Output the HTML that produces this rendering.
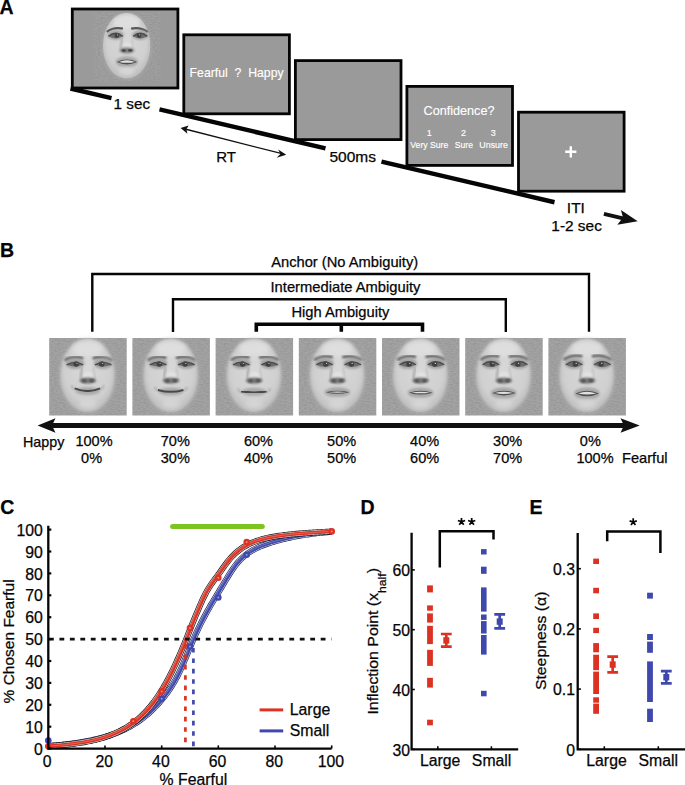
<!DOCTYPE html>
<html><head><meta charset="utf-8"><style>
html,body{margin:0;padding:0;background:#fff;}
svg{display:block;font-family:"Liberation Sans",sans-serif;}
text[fill="#050505"]{stroke:#050505;stroke-width:0.25px;}
text[fill="#fff"]{stroke:#fff;stroke-width:0.15px;}
</style></head><body>
<svg width="685" height="785" viewBox="0 0 685 785">
<defs>
<radialGradient id="faceg" cx="0.5" cy="0.4" r="0.55">
<stop offset="0" stop-color="#d8d8d8"/><stop offset="0.8" stop-color="#d0d0d0"/><stop offset="1" stop-color="#c4c4c4"/>
</radialGradient>
<filter id="bl06" x="-30%" y="-30%" width="160%" height="160%"><feGaussianBlur stdDeviation="0.6"/></filter>
<filter id="bl1" x="-20%" y="-20%" width="140%" height="140%"><feGaussianBlur stdDeviation="0.8"/></filter>
<filter id="bl15" x="-30%" y="-30%" width="160%" height="160%"><feGaussianBlur stdDeviation="1.3"/></filter>
<filter id="bl2" x="-50%" y="-50%" width="200%" height="200%"><feGaussianBlur stdDeviation="2"/></filter>
<filter id="noise" x="0" y="0" width="100%" height="100%"><feTurbulence type="fractalNoise" baseFrequency="0.35 0.9" numOctaves="2" seed="3"/><feColorMatrix type="matrix" values="0 0 0 0 0  0 0 0 0 0  0 0 0 0 0  0 0 0 -2.2 1.4"/><feComposite in2="SourceGraphic" operator="in"/></filter>
</defs>
<rect width="685" height="785" fill="#fff"/>

<text x="-0.5" y="13.6" font-size="19.5" text-anchor="start" fill="#050505" font-weight="bold" >A</text>
<line x1="70.5" y1="88.50" x2="111.5" y2="98.14" stroke="#050505" stroke-width="4.4"/>
<line x1="159.5" y1="109.41" x2="325.5" y2="148.43" stroke="#050505" stroke-width="4.4"/>
<line x1="381.5" y1="161.58" x2="554.5" y2="202.24" stroke="#050505" stroke-width="4.4"/>
<rect x="72.3" y="9.0" width="105.6" height="79.0" fill="#9a9a9a" stroke="#050505" stroke-width="2.8"/>
<rect x="183.8" y="34.8" width="105.6" height="79.0" fill="#9a9a9a" stroke="#050505" stroke-width="2.8"/>
<rect x="295.4" y="60.6" width="105.6" height="79.0" fill="#9a9a9a" stroke="#050505" stroke-width="2.8"/>
<rect x="406.9" y="86.4" width="105.6" height="79.0" fill="#9a9a9a" stroke="#050505" stroke-width="2.8"/>
<rect x="518.5" y="112.2" width="105.6" height="79.0" fill="#9a9a9a" stroke="#050505" stroke-width="2.8"/>
<g transform="translate(93.30,12.40) scale(0.8697,0.8916)"><rect x="0" y="0" width="77.5" height="77.5" fill="#a0a0a0"/><rect x="0" y="0" width="77.5" height="77.5" fill="#000" filter="url(#noise)" opacity="0.08"/><ellipse cx="38.3" cy="37.4" rx="27.2" ry="36.7" fill="url(#faceg)" filter="url(#bl1)"/><ellipse cx="38.3" cy="38" rx="27" ry="36" fill="none" stroke="#b8b8b8" stroke-width="3" filter="url(#bl2)" opacity="0.5"/><ellipse cx="38.5" cy="11" rx="15" ry="8" fill="#dedede" filter="url(#bl2)"/><path d="M15.5 21.9 Q23.5 16.2 34 18.3" stroke="#555" stroke-width="2.6" fill="none" filter="url(#bl1)"/><path d="M43.5 18.3 Q54 16.2 62.5 21.9" stroke="#555" stroke-width="2.6" fill="none" filter="url(#bl1)"/><ellipse cx="25.7" cy="25.5" rx="9.5" ry="5.5" fill="#a4a4a4" filter="url(#bl15)"/><ellipse cx="54" cy="25.5" rx="9.5" ry="5.5" fill="#a4a4a4" filter="url(#bl15)"/><path d="M17.5 26.8 Q25.7 20.0 33.9 26.8 Q25.7 31.6 17.5 26.8Z" fill="#6c6c6c" filter="url(#bl06)"/><circle cx="27.0" cy="26.0" r="2.7" fill="#404040" filter="url(#bl06)"/><circle cx="27.8" cy="25.2" r="0.7" fill="#cfcfcf" filter="url(#bl06)"/><path d="M17.5 26.8 Q25.7 20.0 33.9 26.8" stroke="#4a4a4a" stroke-width="1.4" fill="none" filter="url(#bl06)"/><path d="M45.8 26.8 Q54.0 20.0 62.2 26.8 Q54.0 31.6 45.8 26.8Z" fill="#6c6c6c" filter="url(#bl06)"/><circle cx="52.6" cy="26.0" r="2.7" fill="#404040" filter="url(#bl06)"/><circle cx="53.4" cy="25.2" r="0.7" fill="#cfcfcf" filter="url(#bl06)"/><path d="M45.8 26.8 Q54.0 20.0 62.2 26.8" stroke="#4a4a4a" stroke-width="1.4" fill="none" filter="url(#bl06)"/><path d="M33.2 29 Q32.2 36 31.2 40.5" stroke="#acacac" stroke-width="2.4" fill="none" filter="url(#bl15)"/><path d="M44 29 Q45 36 46 40.5" stroke="#c4c4c4" stroke-width="2" fill="none" filter="url(#bl15)"/><ellipse cx="39" cy="38.2" rx="5" ry="4.5" fill="#e2e2e2" filter="url(#bl15)"/><ellipse cx="38.6" cy="42.6" rx="8.5" ry="3.2" fill="#7c7c7c" filter="url(#bl15)"/><ellipse cx="35" cy="42.8" rx="2.6" ry="1.6" fill="#4a4a4a" filter="url(#bl1)"/><ellipse cx="42.4" cy="42.6" rx="2.6" ry="1.6" fill="#4a4a4a" filter="url(#bl1)"/><ellipse cx="38.5" cy="55.5" rx="13" ry="6.2" fill="#a8a8a8" filter="url(#bl15)"/><path d="M27 55.5 Q38.5 49.9 50.5 55.5 Q38.5 61.1 27 55.5Z" fill="#4e4e4e" filter="url(#bl06)"/><path d="M29.5 55.5 Q38.5 52.0 48 55.5 Q38.5 57.7 29.5 55.5Z" fill="#e0e0e0" filter="url(#bl06)"/><ellipse cx="38.5" cy="66" rx="9" ry="4.5" fill="#d8d8d8" filter="url(#bl2)" opacity="0.8"/></g>
<text x="236.6" y="77.4" font-size="13.3" text-anchor="middle" fill="#fff" font-weight="normal" textLength="94" lengthAdjust="spacingAndGlyphs">Fearful&#160;&#160;?&#160;&#160;Happy</text>
<text x="459.0" y="115.2" font-size="13.3" text-anchor="middle" fill="#fff" font-weight="normal" textLength="71" lengthAdjust="spacingAndGlyphs">Confidence?</text>
<text x="429.2" y="136.3" font-size="9" text-anchor="middle" fill="#fff" font-weight="normal" >1</text>
<text x="463.4" y="136.3" font-size="9" text-anchor="middle" fill="#fff" font-weight="normal" >2</text>
<text x="493.2" y="136.3" font-size="9" text-anchor="middle" fill="#fff" font-weight="normal" >3</text>
<text x="429.3" y="148.0" font-size="9.6" text-anchor="middle" fill="#fff" font-weight="normal" textLength="38" lengthAdjust="spacingAndGlyphs">Very Sure</text>
<text x="463.9" y="148.0" font-size="9.6" text-anchor="middle" fill="#fff" font-weight="normal" textLength="18.2" lengthAdjust="spacingAndGlyphs">Sure</text>
<text x="493.6" y="148.0" font-size="9.6" text-anchor="middle" fill="#fff" font-weight="normal" textLength="28.6" lengthAdjust="spacingAndGlyphs">Unsure</text>
<path d="M565.2 151.8 H576.4 M570.8 146.2 V157.4" stroke="#fff" stroke-width="2.4"/>
<text x="131.8" y="108.6" font-size="14" text-anchor="middle" fill="#050505" font-weight="normal" textLength="36.5" lengthAdjust="spacingAndGlyphs">1 sec</text>
<text x="226.1" y="162.2" font-size="15" text-anchor="middle" fill="#050505" font-weight="normal" >RT</text>
<text x="352.7" y="162.0" font-size="14" text-anchor="middle" fill="#050505" font-weight="normal" textLength="46.5" lengthAdjust="spacingAndGlyphs">500ms</text>
<text x="575.9" y="212.6" font-size="15.5" text-anchor="middle" fill="#050505" font-weight="normal" >ITI</text>
<text x="576.6" y="231.0" font-size="14" text-anchor="middle" fill="#050505" font-weight="normal" textLength="50.5" lengthAdjust="spacingAndGlyphs">1-2 sec</text>
<line x1="183" y1="128.5" x2="284" y2="154.2" stroke="#111" stroke-width="1.3"/>
<path d="M180.6 127.9 L188.6 125.6 L186.4 129.3 L187.4 133.8 Z" fill="#111"/>
<path d="M286.2 154.7 L278.2 149.6 L280.4 154.0 L276.6 157.7 Z" fill="#111"/>
<line x1="603.9" y1="213.9" x2="623" y2="218.3" stroke="#111" stroke-width="3.8"/>
<path d="M637.7 221.3 L620.9 209.9 L623.0 217.6 L617.3 224.8 Z" fill="#111"/>
<text x="0.0" y="257.4" font-size="19.5" text-anchor="start" fill="#050505" font-weight="bold" >B</text>
<path d="M92.3 331.7 V274 H589 V331.7" stroke="#050505" stroke-width="2.4" fill="none"/>
<path d="M173 332 V299.3 H505.8 V332" stroke="#050505" stroke-width="2.4" fill="none"/>
<path d="M256.3 331.7 V324.3 H422.5 V331.7 M341.3 324.3 V331.7" stroke="#050505" stroke-width="3.6" fill="none"/>
<text x="344.7" y="266.7" font-size="14.5" text-anchor="middle" fill="#050505" font-weight="normal" textLength="147" lengthAdjust="spacingAndGlyphs">Anchor (No Ambiguity)</text>
<text x="345.5" y="292.1" font-size="14.5" text-anchor="middle" fill="#050505" font-weight="normal" textLength="150" lengthAdjust="spacingAndGlyphs">Intermediate Ambiguity</text>
<text x="340.4" y="317.4" font-size="14.5" text-anchor="middle" fill="#050505" font-weight="normal" textLength="98" lengthAdjust="spacingAndGlyphs">High Ambiguity</text>
<g transform="translate(49.20,338.00) scale(1.0000,1.0000)"><rect x="0" y="0" width="77.5" height="77.5" fill="#a3a3a3"/><rect x="0" y="0" width="77.5" height="77.5" fill="#000" filter="url(#noise)" opacity="0.08"/><ellipse cx="38.3" cy="37.4" rx="27.2" ry="36.7" fill="url(#faceg)" filter="url(#bl1)"/><ellipse cx="38.3" cy="38" rx="27" ry="36" fill="none" stroke="#b8b8b8" stroke-width="3" filter="url(#bl2)" opacity="0.5"/><ellipse cx="38.5" cy="11" rx="15" ry="8" fill="#dedede" filter="url(#bl2)"/><path d="M15.5 22.5 Q23.5 17.8 34 20.2" stroke="#555" stroke-width="2.6" fill="none" filter="url(#bl1)"/><path d="M43.5 20.2 Q54 17.8 62.5 22.5" stroke="#555" stroke-width="2.6" fill="none" filter="url(#bl1)"/><ellipse cx="25.7" cy="25.5" rx="9.5" ry="5.5" fill="#a4a4a4" filter="url(#bl15)"/><ellipse cx="54" cy="25.5" rx="9.5" ry="5.5" fill="#a4a4a4" filter="url(#bl15)"/><path d="M17.5 26.8 Q25.7 22.0 33.9 26.8 Q25.7 30.2 17.5 26.8Z" fill="#6c6c6c" filter="url(#bl06)"/><circle cx="27.0" cy="26.0" r="2.7" fill="#404040" filter="url(#bl06)"/><circle cx="27.8" cy="25.2" r="0.7" fill="#cfcfcf" filter="url(#bl06)"/><path d="M17.5 26.8 Q25.7 22.0 33.9 26.8" stroke="#4a4a4a" stroke-width="1.4" fill="none" filter="url(#bl06)"/><path d="M45.8 26.8 Q54.0 22.0 62.2 26.8 Q54.0 30.2 45.8 26.8Z" fill="#6c6c6c" filter="url(#bl06)"/><circle cx="52.6" cy="26.0" r="2.7" fill="#404040" filter="url(#bl06)"/><circle cx="53.4" cy="25.2" r="0.7" fill="#cfcfcf" filter="url(#bl06)"/><path d="M45.8 26.8 Q54.0 22.0 62.2 26.8" stroke="#4a4a4a" stroke-width="1.4" fill="none" filter="url(#bl06)"/><path d="M33.2 29 Q32.2 36 31.2 40.5" stroke="#acacac" stroke-width="2.4" fill="none" filter="url(#bl15)"/><path d="M44 29 Q45 36 46 40.5" stroke="#c4c4c4" stroke-width="2" fill="none" filter="url(#bl15)"/><ellipse cx="39" cy="38.2" rx="5" ry="4.5" fill="#e2e2e2" filter="url(#bl15)"/><ellipse cx="38.6" cy="42.6" rx="8.5" ry="3.2" fill="#7c7c7c" filter="url(#bl15)"/><ellipse cx="35" cy="42.8" rx="2.6" ry="1.6" fill="#4a4a4a" filter="url(#bl1)"/><ellipse cx="42.4" cy="42.6" rx="2.6" ry="1.6" fill="#4a4a4a" filter="url(#bl1)"/><path d="M22 47.4 Q24 51.4 26 51.4" stroke="#a8a8a8" stroke-width="1.6" fill="none" filter="url(#bl1)"/><path d="M55 47.4 Q53 51.4 51 51.4" stroke="#a8a8a8" stroke-width="1.6" fill="none" filter="url(#bl1)"/><ellipse cx="38.5" cy="53.0" rx="12.5" ry="4" fill="#aaaaaa" filter="url(#bl15)"/><path d="M25.5 50.4 Q38.5 55.8 51 50.4" stroke="#4a4a4a" stroke-width="2.1" fill="none" filter="url(#bl06)"/><ellipse cx="38.5" cy="66" rx="9" ry="4.5" fill="#d8d8d8" filter="url(#bl2)" opacity="0.8"/></g>
<g transform="translate(132.40,338.00) scale(1.0000,1.0000)"><rect x="0" y="0" width="77.5" height="77.5" fill="#a3a3a3"/><rect x="0" y="0" width="77.5" height="77.5" fill="#000" filter="url(#noise)" opacity="0.08"/><ellipse cx="38.3" cy="37.4" rx="27.2" ry="36.7" fill="url(#faceg)" filter="url(#bl1)"/><ellipse cx="38.3" cy="38" rx="27" ry="36" fill="none" stroke="#b8b8b8" stroke-width="3" filter="url(#bl2)" opacity="0.5"/><ellipse cx="38.5" cy="11" rx="15" ry="8" fill="#dedede" filter="url(#bl2)"/><path d="M15.5 22.4 Q23.5 17.5 34 19.9" stroke="#555" stroke-width="2.6" fill="none" filter="url(#bl1)"/><path d="M43.5 19.9 Q54 17.5 62.5 22.4" stroke="#555" stroke-width="2.6" fill="none" filter="url(#bl1)"/><ellipse cx="25.7" cy="25.5" rx="9.5" ry="5.5" fill="#a4a4a4" filter="url(#bl15)"/><ellipse cx="54" cy="25.5" rx="9.5" ry="5.5" fill="#a4a4a4" filter="url(#bl15)"/><path d="M17.5 26.8 Q25.7 21.7 33.9 26.8 Q25.7 30.4 17.5 26.8Z" fill="#6c6c6c" filter="url(#bl06)"/><circle cx="27.0" cy="26.0" r="2.7" fill="#404040" filter="url(#bl06)"/><circle cx="27.8" cy="25.2" r="0.7" fill="#cfcfcf" filter="url(#bl06)"/><path d="M17.5 26.8 Q25.7 21.7 33.9 26.8" stroke="#4a4a4a" stroke-width="1.4" fill="none" filter="url(#bl06)"/><path d="M45.8 26.8 Q54.0 21.7 62.2 26.8 Q54.0 30.4 45.8 26.8Z" fill="#6c6c6c" filter="url(#bl06)"/><circle cx="52.6" cy="26.0" r="2.7" fill="#404040" filter="url(#bl06)"/><circle cx="53.4" cy="25.2" r="0.7" fill="#cfcfcf" filter="url(#bl06)"/><path d="M45.8 26.8 Q54.0 21.7 62.2 26.8" stroke="#4a4a4a" stroke-width="1.4" fill="none" filter="url(#bl06)"/><path d="M33.2 29 Q32.2 36 31.2 40.5" stroke="#acacac" stroke-width="2.4" fill="none" filter="url(#bl15)"/><path d="M44 29 Q45 36 46 40.5" stroke="#c4c4c4" stroke-width="2" fill="none" filter="url(#bl15)"/><ellipse cx="39" cy="38.2" rx="5" ry="4.5" fill="#e2e2e2" filter="url(#bl15)"/><ellipse cx="38.6" cy="42.6" rx="8.5" ry="3.2" fill="#7c7c7c" filter="url(#bl15)"/><ellipse cx="35" cy="42.8" rx="2.6" ry="1.6" fill="#4a4a4a" filter="url(#bl1)"/><ellipse cx="42.4" cy="42.6" rx="2.6" ry="1.6" fill="#4a4a4a" filter="url(#bl1)"/><path d="M22 48.9 Q24 52.9 26 52.9" stroke="#a8a8a8" stroke-width="1.6" fill="none" filter="url(#bl1)"/><path d="M55 48.9 Q53 52.9 51 52.9" stroke="#a8a8a8" stroke-width="1.6" fill="none" filter="url(#bl1)"/><ellipse cx="38.5" cy="53.4" rx="12.5" ry="4" fill="#aaaaaa" filter="url(#bl15)"/><path d="M25.5 51.9 Q38.5 55.7 51 51.9" stroke="#4a4a4a" stroke-width="2.1" fill="none" filter="url(#bl06)"/><ellipse cx="38.5" cy="66" rx="9" ry="4.5" fill="#d8d8d8" filter="url(#bl2)" opacity="0.8"/></g>
<g transform="translate(215.60,338.00) scale(1.0000,1.0000)"><rect x="0" y="0" width="77.5" height="77.5" fill="#a3a3a3"/><rect x="0" y="0" width="77.5" height="77.5" fill="#000" filter="url(#noise)" opacity="0.08"/><ellipse cx="38.3" cy="37.4" rx="27.2" ry="36.7" fill="url(#faceg)" filter="url(#bl1)"/><ellipse cx="38.3" cy="38" rx="27" ry="36" fill="none" stroke="#b8b8b8" stroke-width="3" filter="url(#bl2)" opacity="0.5"/><ellipse cx="38.5" cy="11" rx="15" ry="8" fill="#dedede" filter="url(#bl2)"/><path d="M15.5 22.3 Q23.5 17.3 34 19.6" stroke="#555" stroke-width="2.6" fill="none" filter="url(#bl1)"/><path d="M43.5 19.6 Q54 17.3 62.5 22.3" stroke="#555" stroke-width="2.6" fill="none" filter="url(#bl1)"/><ellipse cx="25.7" cy="25.5" rx="9.5" ry="5.5" fill="#a4a4a4" filter="url(#bl15)"/><ellipse cx="54" cy="25.5" rx="9.5" ry="5.5" fill="#a4a4a4" filter="url(#bl15)"/><path d="M17.5 26.8 Q25.7 21.4 33.9 26.8 Q25.7 30.6 17.5 26.8Z" fill="#6c6c6c" filter="url(#bl06)"/><circle cx="27.0" cy="26.0" r="2.7" fill="#404040" filter="url(#bl06)"/><circle cx="27.8" cy="25.2" r="0.7" fill="#cfcfcf" filter="url(#bl06)"/><path d="M17.5 26.8 Q25.7 21.4 33.9 26.8" stroke="#4a4a4a" stroke-width="1.4" fill="none" filter="url(#bl06)"/><path d="M45.8 26.8 Q54.0 21.4 62.2 26.8 Q54.0 30.6 45.8 26.8Z" fill="#6c6c6c" filter="url(#bl06)"/><circle cx="52.6" cy="26.0" r="2.7" fill="#404040" filter="url(#bl06)"/><circle cx="53.4" cy="25.2" r="0.7" fill="#cfcfcf" filter="url(#bl06)"/><path d="M45.8 26.8 Q54.0 21.4 62.2 26.8" stroke="#4a4a4a" stroke-width="1.4" fill="none" filter="url(#bl06)"/><path d="M33.2 29 Q32.2 36 31.2 40.5" stroke="#acacac" stroke-width="2.4" fill="none" filter="url(#bl15)"/><path d="M44 29 Q45 36 46 40.5" stroke="#c4c4c4" stroke-width="2" fill="none" filter="url(#bl15)"/><ellipse cx="39" cy="38.2" rx="5" ry="4.5" fill="#e2e2e2" filter="url(#bl15)"/><ellipse cx="38.6" cy="42.6" rx="8.5" ry="3.2" fill="#7c7c7c" filter="url(#bl15)"/><ellipse cx="35" cy="42.8" rx="2.6" ry="1.6" fill="#4a4a4a" filter="url(#bl1)"/><ellipse cx="42.4" cy="42.6" rx="2.6" ry="1.6" fill="#4a4a4a" filter="url(#bl1)"/><path d="M22 50.4 Q24 54.4 26 54.4" stroke="#a8a8a8" stroke-width="1.6" fill="none" filter="url(#bl1)"/><path d="M55 50.4 Q53 54.4 51 54.4" stroke="#a8a8a8" stroke-width="1.6" fill="none" filter="url(#bl1)"/><ellipse cx="38.5" cy="53.8" rx="12.5" ry="4" fill="#aaaaaa" filter="url(#bl15)"/><path d="M25.5 53.4 Q38.5 55.6 51 53.4" stroke="#4a4a4a" stroke-width="2.1" fill="none" filter="url(#bl06)"/><ellipse cx="38.5" cy="66" rx="9" ry="4.5" fill="#d8d8d8" filter="url(#bl2)" opacity="0.8"/></g>
<g transform="translate(298.80,338.00) scale(1.0000,1.0000)"><rect x="0" y="0" width="77.5" height="77.5" fill="#a3a3a3"/><rect x="0" y="0" width="77.5" height="77.5" fill="#000" filter="url(#noise)" opacity="0.08"/><ellipse cx="38.3" cy="37.4" rx="27.2" ry="36.7" fill="url(#faceg)" filter="url(#bl1)"/><ellipse cx="38.3" cy="38" rx="27" ry="36" fill="none" stroke="#b8b8b8" stroke-width="3" filter="url(#bl2)" opacity="0.5"/><ellipse cx="38.5" cy="11" rx="15" ry="8" fill="#dedede" filter="url(#bl2)"/><path d="M15.5 22.2 Q23.5 17.0 34 19.2" stroke="#555" stroke-width="2.6" fill="none" filter="url(#bl1)"/><path d="M43.5 19.2 Q54 17.0 62.5 22.2" stroke="#555" stroke-width="2.6" fill="none" filter="url(#bl1)"/><ellipse cx="25.7" cy="25.5" rx="9.5" ry="5.5" fill="#a4a4a4" filter="url(#bl15)"/><ellipse cx="54" cy="25.5" rx="9.5" ry="5.5" fill="#a4a4a4" filter="url(#bl15)"/><path d="M17.5 26.8 Q25.7 21.0 33.9 26.8 Q25.7 30.9 17.5 26.8Z" fill="#6c6c6c" filter="url(#bl06)"/><circle cx="27.0" cy="26.0" r="2.7" fill="#404040" filter="url(#bl06)"/><circle cx="27.8" cy="25.2" r="0.7" fill="#cfcfcf" filter="url(#bl06)"/><path d="M17.5 26.8 Q25.7 21.0 33.9 26.8" stroke="#4a4a4a" stroke-width="1.4" fill="none" filter="url(#bl06)"/><path d="M45.8 26.8 Q54.0 21.0 62.2 26.8 Q54.0 30.9 45.8 26.8Z" fill="#6c6c6c" filter="url(#bl06)"/><circle cx="52.6" cy="26.0" r="2.7" fill="#404040" filter="url(#bl06)"/><circle cx="53.4" cy="25.2" r="0.7" fill="#cfcfcf" filter="url(#bl06)"/><path d="M45.8 26.8 Q54.0 21.0 62.2 26.8" stroke="#4a4a4a" stroke-width="1.4" fill="none" filter="url(#bl06)"/><path d="M33.2 29 Q32.2 36 31.2 40.5" stroke="#acacac" stroke-width="2.4" fill="none" filter="url(#bl15)"/><path d="M44 29 Q45 36 46 40.5" stroke="#c4c4c4" stroke-width="2" fill="none" filter="url(#bl15)"/><ellipse cx="39" cy="38.2" rx="5" ry="4.5" fill="#e2e2e2" filter="url(#bl15)"/><ellipse cx="38.6" cy="42.6" rx="8.5" ry="3.2" fill="#7c7c7c" filter="url(#bl15)"/><ellipse cx="35" cy="42.8" rx="2.6" ry="1.6" fill="#4a4a4a" filter="url(#bl1)"/><ellipse cx="42.4" cy="42.6" rx="2.6" ry="1.6" fill="#4a4a4a" filter="url(#bl1)"/><ellipse cx="38.5" cy="54.2" rx="13" ry="4.9" fill="#a8a8a8" filter="url(#bl15)"/><path d="M27 54.2 Q38.5 51.3 50.5 54.2 Q38.5 57.2 27 54.2Z" fill="#4e4e4e" filter="url(#bl06)"/><path d="M29.5 54.2 Q38.5 52.9 48 54.2 Q38.5 55.1 29.5 54.2Z" fill="#e0e0e0" filter="url(#bl06)"/><ellipse cx="38.5" cy="66" rx="9" ry="4.5" fill="#d8d8d8" filter="url(#bl2)" opacity="0.8"/></g>
<g transform="translate(382.00,338.00) scale(1.0000,1.0000)"><rect x="0" y="0" width="77.5" height="77.5" fill="#a3a3a3"/><rect x="0" y="0" width="77.5" height="77.5" fill="#000" filter="url(#noise)" opacity="0.08"/><ellipse cx="38.3" cy="37.4" rx="27.2" ry="36.7" fill="url(#faceg)" filter="url(#bl1)"/><ellipse cx="38.3" cy="38" rx="27" ry="36" fill="none" stroke="#b8b8b8" stroke-width="3" filter="url(#bl2)" opacity="0.5"/><ellipse cx="38.5" cy="11" rx="15" ry="8" fill="#dedede" filter="url(#bl2)"/><path d="M15.5 22.1 Q23.5 16.7 34 18.9" stroke="#555" stroke-width="2.6" fill="none" filter="url(#bl1)"/><path d="M43.5 18.9 Q54 16.7 62.5 22.1" stroke="#555" stroke-width="2.6" fill="none" filter="url(#bl1)"/><ellipse cx="25.7" cy="25.5" rx="9.5" ry="5.5" fill="#a4a4a4" filter="url(#bl15)"/><ellipse cx="54" cy="25.5" rx="9.5" ry="5.5" fill="#a4a4a4" filter="url(#bl15)"/><path d="M17.5 26.8 Q25.7 20.7 33.9 26.8 Q25.7 31.1 17.5 26.8Z" fill="#6c6c6c" filter="url(#bl06)"/><circle cx="27.0" cy="26.0" r="2.7" fill="#404040" filter="url(#bl06)"/><circle cx="27.8" cy="25.2" r="0.7" fill="#cfcfcf" filter="url(#bl06)"/><path d="M17.5 26.8 Q25.7 20.7 33.9 26.8" stroke="#4a4a4a" stroke-width="1.4" fill="none" filter="url(#bl06)"/><path d="M45.8 26.8 Q54.0 20.7 62.2 26.8 Q54.0 31.1 45.8 26.8Z" fill="#6c6c6c" filter="url(#bl06)"/><circle cx="52.6" cy="26.0" r="2.7" fill="#404040" filter="url(#bl06)"/><circle cx="53.4" cy="25.2" r="0.7" fill="#cfcfcf" filter="url(#bl06)"/><path d="M45.8 26.8 Q54.0 20.7 62.2 26.8" stroke="#4a4a4a" stroke-width="1.4" fill="none" filter="url(#bl06)"/><path d="M33.2 29 Q32.2 36 31.2 40.5" stroke="#acacac" stroke-width="2.4" fill="none" filter="url(#bl15)"/><path d="M44 29 Q45 36 46 40.5" stroke="#c4c4c4" stroke-width="2" fill="none" filter="url(#bl15)"/><ellipse cx="39" cy="38.2" rx="5" ry="4.5" fill="#e2e2e2" filter="url(#bl15)"/><ellipse cx="38.6" cy="42.6" rx="8.5" ry="3.2" fill="#7c7c7c" filter="url(#bl15)"/><ellipse cx="35" cy="42.8" rx="2.6" ry="1.6" fill="#4a4a4a" filter="url(#bl1)"/><ellipse cx="42.4" cy="42.6" rx="2.6" ry="1.6" fill="#4a4a4a" filter="url(#bl1)"/><ellipse cx="38.5" cy="54.7" rx="13" ry="5.3" fill="#a8a8a8" filter="url(#bl15)"/><path d="M27 54.7 Q38.5 50.8 50.5 54.7 Q38.5 58.5 27 54.7Z" fill="#4e4e4e" filter="url(#bl06)"/><path d="M29.5 54.7 Q38.5 52.6 48 54.7 Q38.5 56.0 29.5 54.7Z" fill="#e0e0e0" filter="url(#bl06)"/><ellipse cx="38.5" cy="66" rx="9" ry="4.5" fill="#d8d8d8" filter="url(#bl2)" opacity="0.8"/></g>
<g transform="translate(465.20,338.00) scale(1.0000,1.0000)"><rect x="0" y="0" width="77.5" height="77.5" fill="#a3a3a3"/><rect x="0" y="0" width="77.5" height="77.5" fill="#000" filter="url(#noise)" opacity="0.08"/><ellipse cx="38.3" cy="37.4" rx="27.2" ry="36.7" fill="url(#faceg)" filter="url(#bl1)"/><ellipse cx="38.3" cy="38" rx="27" ry="36" fill="none" stroke="#b8b8b8" stroke-width="3" filter="url(#bl2)" opacity="0.5"/><ellipse cx="38.5" cy="11" rx="15" ry="8" fill="#dedede" filter="url(#bl2)"/><path d="M15.5 22.0 Q23.5 16.5 34 18.6" stroke="#555" stroke-width="2.6" fill="none" filter="url(#bl1)"/><path d="M43.5 18.6 Q54 16.5 62.5 22.0" stroke="#555" stroke-width="2.6" fill="none" filter="url(#bl1)"/><ellipse cx="25.7" cy="25.5" rx="9.5" ry="5.5" fill="#a4a4a4" filter="url(#bl15)"/><ellipse cx="54" cy="25.5" rx="9.5" ry="5.5" fill="#a4a4a4" filter="url(#bl15)"/><path d="M17.5 26.8 Q25.7 20.3 33.9 26.8 Q25.7 31.4 17.5 26.8Z" fill="#6c6c6c" filter="url(#bl06)"/><circle cx="27.0" cy="26.0" r="2.7" fill="#404040" filter="url(#bl06)"/><circle cx="27.8" cy="25.2" r="0.7" fill="#cfcfcf" filter="url(#bl06)"/><path d="M17.5 26.8 Q25.7 20.3 33.9 26.8" stroke="#4a4a4a" stroke-width="1.4" fill="none" filter="url(#bl06)"/><path d="M45.8 26.8 Q54.0 20.3 62.2 26.8 Q54.0 31.4 45.8 26.8Z" fill="#6c6c6c" filter="url(#bl06)"/><circle cx="52.6" cy="26.0" r="2.7" fill="#404040" filter="url(#bl06)"/><circle cx="53.4" cy="25.2" r="0.7" fill="#cfcfcf" filter="url(#bl06)"/><path d="M45.8 26.8 Q54.0 20.3 62.2 26.8" stroke="#4a4a4a" stroke-width="1.4" fill="none" filter="url(#bl06)"/><path d="M33.2 29 Q32.2 36 31.2 40.5" stroke="#acacac" stroke-width="2.4" fill="none" filter="url(#bl15)"/><path d="M44 29 Q45 36 46 40.5" stroke="#c4c4c4" stroke-width="2" fill="none" filter="url(#bl15)"/><ellipse cx="39" cy="38.2" rx="5" ry="4.5" fill="#e2e2e2" filter="url(#bl15)"/><ellipse cx="38.6" cy="42.6" rx="8.5" ry="3.2" fill="#7c7c7c" filter="url(#bl15)"/><ellipse cx="35" cy="42.8" rx="2.6" ry="1.6" fill="#4a4a4a" filter="url(#bl1)"/><ellipse cx="42.4" cy="42.6" rx="2.6" ry="1.6" fill="#4a4a4a" filter="url(#bl1)"/><ellipse cx="38.5" cy="55.1" rx="13" ry="5.8" fill="#a8a8a8" filter="url(#bl15)"/><path d="M27 55.1 Q38.5 50.4 50.5 55.1 Q38.5 59.8 27 55.1Z" fill="#4e4e4e" filter="url(#bl06)"/><path d="M29.5 55.1 Q38.5 52.3 48 55.1 Q38.5 56.8 29.5 55.1Z" fill="#e0e0e0" filter="url(#bl06)"/><ellipse cx="38.5" cy="66" rx="9" ry="4.5" fill="#d8d8d8" filter="url(#bl2)" opacity="0.8"/></g>
<g transform="translate(548.40,338.00) scale(1.0000,1.0000)"><rect x="0" y="0" width="77.5" height="77.5" fill="#a3a3a3"/><rect x="0" y="0" width="77.5" height="77.5" fill="#000" filter="url(#noise)" opacity="0.08"/><ellipse cx="38.3" cy="37.4" rx="27.2" ry="36.7" fill="url(#faceg)" filter="url(#bl1)"/><ellipse cx="38.3" cy="38" rx="27" ry="36" fill="none" stroke="#b8b8b8" stroke-width="3" filter="url(#bl2)" opacity="0.5"/><ellipse cx="38.5" cy="11" rx="15" ry="8" fill="#dedede" filter="url(#bl2)"/><path d="M15.5 21.9 Q23.5 16.2 34 18.3" stroke="#555" stroke-width="2.6" fill="none" filter="url(#bl1)"/><path d="M43.5 18.3 Q54 16.2 62.5 21.9" stroke="#555" stroke-width="2.6" fill="none" filter="url(#bl1)"/><ellipse cx="25.7" cy="25.5" rx="9.5" ry="5.5" fill="#a4a4a4" filter="url(#bl15)"/><ellipse cx="54" cy="25.5" rx="9.5" ry="5.5" fill="#a4a4a4" filter="url(#bl15)"/><path d="M17.5 26.8 Q25.7 20.0 33.9 26.8 Q25.7 31.6 17.5 26.8Z" fill="#6c6c6c" filter="url(#bl06)"/><circle cx="27.0" cy="26.0" r="2.7" fill="#404040" filter="url(#bl06)"/><circle cx="27.8" cy="25.2" r="0.7" fill="#cfcfcf" filter="url(#bl06)"/><path d="M17.5 26.8 Q25.7 20.0 33.9 26.8" stroke="#4a4a4a" stroke-width="1.4" fill="none" filter="url(#bl06)"/><path d="M45.8 26.8 Q54.0 20.0 62.2 26.8 Q54.0 31.6 45.8 26.8Z" fill="#6c6c6c" filter="url(#bl06)"/><circle cx="52.6" cy="26.0" r="2.7" fill="#404040" filter="url(#bl06)"/><circle cx="53.4" cy="25.2" r="0.7" fill="#cfcfcf" filter="url(#bl06)"/><path d="M45.8 26.8 Q54.0 20.0 62.2 26.8" stroke="#4a4a4a" stroke-width="1.4" fill="none" filter="url(#bl06)"/><path d="M33.2 29 Q32.2 36 31.2 40.5" stroke="#acacac" stroke-width="2.4" fill="none" filter="url(#bl15)"/><path d="M44 29 Q45 36 46 40.5" stroke="#c4c4c4" stroke-width="2" fill="none" filter="url(#bl15)"/><ellipse cx="39" cy="38.2" rx="5" ry="4.5" fill="#e2e2e2" filter="url(#bl15)"/><ellipse cx="38.6" cy="42.6" rx="8.5" ry="3.2" fill="#7c7c7c" filter="url(#bl15)"/><ellipse cx="35" cy="42.8" rx="2.6" ry="1.6" fill="#4a4a4a" filter="url(#bl1)"/><ellipse cx="42.4" cy="42.6" rx="2.6" ry="1.6" fill="#4a4a4a" filter="url(#bl1)"/><ellipse cx="38.5" cy="55.5" rx="13" ry="6.2" fill="#a8a8a8" filter="url(#bl15)"/><path d="M27 55.5 Q38.5 49.9 50.5 55.5 Q38.5 61.1 27 55.5Z" fill="#4e4e4e" filter="url(#bl06)"/><path d="M29.5 55.5 Q38.5 52.0 48 55.5 Q38.5 57.7 29.5 55.5Z" fill="#e0e0e0" filter="url(#bl06)"/><ellipse cx="38.5" cy="66" rx="9" ry="4.5" fill="#d8d8d8" filter="url(#bl2)" opacity="0.8"/></g>
<line x1="52" y1="425.5" x2="624" y2="425.5" stroke="#111" stroke-width="4.8"/>
<path d="M37.6 425.5 L55.5 418.3 L52 425.5 L55.5 432.8 Z" fill="#111"/>
<path d="M639.7 425.5 L620.5 418.3 L624 425.5 L620.5 432.8 Z" fill="#111"/>
<text x="23.0" y="446.6" font-size="14.5" text-anchor="start" fill="#050505" font-weight="normal" textLength="41.4" lengthAdjust="spacingAndGlyphs">Happy</text>
<text x="622.0" y="462.8" font-size="14.5" text-anchor="start" fill="#050505" font-weight="normal" textLength="45.6" lengthAdjust="spacingAndGlyphs">Fearful</text>
<text x="94.0" y="446.4" font-size="14.5" text-anchor="middle" fill="#050505" font-weight="normal" >100%</text>
<text x="91.6" y="463.2" font-size="14.5" text-anchor="middle" fill="#050505" font-weight="normal" >0%</text>
<text x="175.3" y="446.4" font-size="14.5" text-anchor="middle" fill="#050505" font-weight="normal" >70%</text>
<text x="175.3" y="463.2" font-size="14.5" text-anchor="middle" fill="#050505" font-weight="normal" >30%</text>
<text x="258.5" y="446.4" font-size="14.5" text-anchor="middle" fill="#050505" font-weight="normal" >60%</text>
<text x="258.5" y="463.2" font-size="14.5" text-anchor="middle" fill="#050505" font-weight="normal" >40%</text>
<text x="341.6" y="446.4" font-size="14.5" text-anchor="middle" fill="#050505" font-weight="normal" >50%</text>
<text x="341.6" y="463.2" font-size="14.5" text-anchor="middle" fill="#050505" font-weight="normal" >50%</text>
<text x="424.6" y="446.4" font-size="14.5" text-anchor="middle" fill="#050505" font-weight="normal" >40%</text>
<text x="424.6" y="463.2" font-size="14.5" text-anchor="middle" fill="#050505" font-weight="normal" >60%</text>
<text x="507.6" y="446.4" font-size="14.5" text-anchor="middle" fill="#050505" font-weight="normal" >30%</text>
<text x="507.6" y="463.2" font-size="14.5" text-anchor="middle" fill="#050505" font-weight="normal" >70%</text>
<text x="590.3" y="446.4" font-size="14.5" text-anchor="middle" fill="#050505" font-weight="normal" >0%</text>
<text x="595.0" y="463.2" font-size="14.5" text-anchor="middle" fill="#050505" font-weight="normal" >100%</text>
<text x="0.2" y="514.3" font-size="19.5" text-anchor="start" fill="#050505" font-weight="bold" >C</text>
<line x1="172.6" y1="526.6" x2="262.3" y2="526.6" stroke="#7cc41f" stroke-width="5" stroke-linecap="round"/>
<path d="M48.30 745.99 L49.72 745.89 L51.13 745.77 L52.55 745.66 L53.97 745.54 L55.38 745.41 L56.80 745.29 L58.22 745.15 L59.64 745.01 L61.05 744.87 L62.47 744.72 L63.89 744.57 L65.30 744.41 L66.72 744.25 L68.14 744.08 L69.55 743.90 L70.97 743.72 L72.39 743.54 L73.81 743.34 L75.22 743.14 L76.64 742.93 L78.06 742.72 L79.47 742.50 L80.89 742.27 L82.31 742.03 L83.72 741.78 L85.14 741.53 L86.56 741.26 L87.98 740.99 L89.39 740.71 L90.81 740.41 L92.23 740.11 L93.64 739.80 L95.06 739.47 L96.48 739.14 L97.89 738.79 L99.31 738.43 L100.73 738.06 L102.15 737.67 L103.56 737.27 L104.98 736.86 L106.40 736.43 L107.81 735.99 L109.23 735.53 L110.65 735.05 L112.06 734.56 L113.48 734.05 L114.90 733.52 L116.32 732.97 L117.73 732.41 L119.15 731.82 L120.57 731.21 L121.98 730.58 L123.40 729.92 L124.82 729.24 L126.23 728.54 L127.65 727.81 L129.07 727.06 L130.49 726.27 L131.90 725.46 L133.32 724.62 L134.74 723.75 L136.15 722.85 L137.57 721.91 L138.99 720.95 L140.41 719.94 L141.82 718.90 L143.24 717.83 L144.66 716.71 L146.07 715.55 L147.49 714.36 L148.91 713.12 L150.32 711.84 L151.74 710.51 L153.16 709.14 L154.57 707.72 L155.99 706.26 L157.41 704.74 L158.83 703.17 L160.24 701.55 L161.66 699.88 L163.08 698.16 L164.49 696.37 L165.91 694.52 L167.33 692.60 L168.75 690.60 L170.16 688.51 L171.58 686.33 L173.00 684.05 L174.41 681.65 L175.83 679.13 L177.25 676.49 L178.66 673.71 L180.08 670.78 L181.50 667.70 L182.92 664.48 L184.33 661.16 L185.75 657.76 L187.17 654.31 L188.58 650.85 L190.00 647.41 L191.42 644.01 L192.83 640.67 L194.25 637.41 L195.67 634.24 L197.08 631.16 L198.50 628.17 L199.92 625.26 L201.34 622.43 L202.75 619.67 L204.17 616.98 L205.59 614.36 L207.00 611.79 L208.42 609.27 L209.84 606.80 L211.25 604.36 L212.67 601.96 L214.09 599.58 L215.51 597.21 L216.92 594.86 L218.34 592.51 L219.76 590.17 L221.17 587.83 L222.59 585.48 L224.01 583.13 L225.43 580.77 L226.84 578.42 L228.26 576.10 L229.68 573.82 L231.09 571.61 L232.51 569.49 L233.93 567.46 L235.34 565.53 L236.76 563.73 L238.18 562.04 L239.60 560.47 L241.01 559.01 L242.43 557.66 L243.85 556.40 L245.26 555.22 L246.68 554.13 L248.10 553.10 L249.51 552.14 L250.93 551.25 L252.35 550.40 L253.76 549.61 L255.18 548.86 L256.60 548.15 L258.02 547.48 L259.43 546.84 L260.85 546.24 L262.27 545.66 L263.68 545.11 L265.10 544.58 L266.52 544.07 L267.94 543.59 L269.35 543.11 L270.77 542.66 L272.19 542.22 L273.60 541.79 L275.02 541.37 L276.44 540.97 L277.85 540.57 L279.27 540.19 L280.69 539.81 L282.11 539.45 L283.52 539.09 L284.94 538.74 L286.36 538.41 L287.77 538.08 L289.19 537.76 L290.61 537.45 L292.02 537.15 L293.44 536.86 L294.86 536.58 L296.27 536.31 L297.69 536.04 L299.11 535.79 L300.53 535.54 L301.94 535.30 L303.36 535.06 L304.78 534.84 L306.19 534.62 L307.61 534.41 L309.03 534.21 L310.44 534.01 L311.86 533.82 L313.28 533.64 L314.70 533.46 L316.11 533.29 L317.53 533.13 L318.95 532.97 L320.36 532.82 L321.78 532.67 L323.20 532.53 L324.62 532.39 L326.03 532.26 L327.45 532.14 L328.87 532.02 L330.28 531.90 L331.70 531.79" stroke="#1a1f5a" stroke-width="6.0" fill="none"/>
<path d="M48.30 745.99 L49.72 745.89 L51.13 745.77 L52.55 745.66 L53.97 745.54 L55.38 745.41 L56.80 745.29 L58.22 745.15 L59.64 745.01 L61.05 744.87 L62.47 744.72 L63.89 744.57 L65.30 744.41 L66.72 744.25 L68.14 744.08 L69.55 743.90 L70.97 743.72 L72.39 743.54 L73.81 743.34 L75.22 743.14 L76.64 742.93 L78.06 742.72 L79.47 742.50 L80.89 742.27 L82.31 742.03 L83.72 741.78 L85.14 741.53 L86.56 741.26 L87.98 740.99 L89.39 740.71 L90.81 740.41 L92.23 740.11 L93.64 739.80 L95.06 739.47 L96.48 739.14 L97.89 738.79 L99.31 738.43 L100.73 738.06 L102.15 737.67 L103.56 737.27 L104.98 736.86 L106.40 736.43 L107.81 735.99 L109.23 735.53 L110.65 735.05 L112.06 734.56 L113.48 734.05 L114.90 733.52 L116.32 732.97 L117.73 732.41 L119.15 731.82 L120.57 731.21 L121.98 730.58 L123.40 729.92 L124.82 729.24 L126.23 728.54 L127.65 727.81 L129.07 727.06 L130.49 726.27 L131.90 725.46 L133.32 724.62 L134.74 723.75 L136.15 722.85 L137.57 721.91 L138.99 720.95 L140.41 719.94 L141.82 718.90 L143.24 717.83 L144.66 716.71 L146.07 715.55 L147.49 714.36 L148.91 713.12 L150.32 711.84 L151.74 710.51 L153.16 709.14 L154.57 707.72 L155.99 706.26 L157.41 704.74 L158.83 703.17 L160.24 701.55 L161.66 699.88 L163.08 698.16 L164.49 696.37 L165.91 694.52 L167.33 692.60 L168.75 690.60 L170.16 688.51 L171.58 686.33 L173.00 684.05 L174.41 681.65 L175.83 679.13 L177.25 676.49 L178.66 673.71 L180.08 670.78 L181.50 667.70 L182.92 664.48 L184.33 661.16 L185.75 657.76 L187.17 654.31 L188.58 650.85 L190.00 647.41 L191.42 644.01 L192.83 640.67 L194.25 637.41 L195.67 634.24 L197.08 631.16 L198.50 628.17 L199.92 625.26 L201.34 622.43 L202.75 619.67 L204.17 616.98 L205.59 614.36 L207.00 611.79 L208.42 609.27 L209.84 606.80 L211.25 604.36 L212.67 601.96 L214.09 599.58 L215.51 597.21 L216.92 594.86 L218.34 592.51 L219.76 590.17 L221.17 587.83 L222.59 585.48 L224.01 583.13 L225.43 580.77 L226.84 578.42 L228.26 576.10 L229.68 573.82 L231.09 571.61 L232.51 569.49 L233.93 567.46 L235.34 565.53 L236.76 563.73 L238.18 562.04 L239.60 560.47 L241.01 559.01 L242.43 557.66 L243.85 556.40 L245.26 555.22 L246.68 554.13 L248.10 553.10 L249.51 552.14 L250.93 551.25 L252.35 550.40 L253.76 549.61 L255.18 548.86 L256.60 548.15 L258.02 547.48 L259.43 546.84 L260.85 546.24 L262.27 545.66 L263.68 545.11 L265.10 544.58 L266.52 544.07 L267.94 543.59 L269.35 543.11 L270.77 542.66 L272.19 542.22 L273.60 541.79 L275.02 541.37 L276.44 540.97 L277.85 540.57 L279.27 540.19 L280.69 539.81 L282.11 539.45 L283.52 539.09 L284.94 538.74 L286.36 538.41 L287.77 538.08 L289.19 537.76 L290.61 537.45 L292.02 537.15 L293.44 536.86 L294.86 536.58 L296.27 536.31 L297.69 536.04 L299.11 535.79 L300.53 535.54 L301.94 535.30 L303.36 535.06 L304.78 534.84 L306.19 534.62 L307.61 534.41 L309.03 534.21 L310.44 534.01 L311.86 533.82 L313.28 533.64 L314.70 533.46 L316.11 533.29 L317.53 533.13 L318.95 532.97 L320.36 532.82 L321.78 532.67 L323.20 532.53 L324.62 532.39 L326.03 532.26 L327.45 532.14 L328.87 532.02 L330.28 531.90 L331.70 531.79" stroke="#fff" stroke-width="4.7" fill="none" opacity="0.8"/>
<path d="M48.30 745.99 L49.72 745.89 L51.13 745.77 L52.55 745.66 L53.97 745.54 L55.38 745.41 L56.80 745.29 L58.22 745.15 L59.64 745.01 L61.05 744.87 L62.47 744.72 L63.89 744.57 L65.30 744.41 L66.72 744.25 L68.14 744.08 L69.55 743.90 L70.97 743.72 L72.39 743.54 L73.81 743.34 L75.22 743.14 L76.64 742.93 L78.06 742.72 L79.47 742.50 L80.89 742.27 L82.31 742.03 L83.72 741.78 L85.14 741.53 L86.56 741.26 L87.98 740.99 L89.39 740.71 L90.81 740.41 L92.23 740.11 L93.64 739.80 L95.06 739.47 L96.48 739.14 L97.89 738.79 L99.31 738.43 L100.73 738.06 L102.15 737.67 L103.56 737.27 L104.98 736.86 L106.40 736.43 L107.81 735.99 L109.23 735.53 L110.65 735.05 L112.06 734.56 L113.48 734.05 L114.90 733.52 L116.32 732.97 L117.73 732.41 L119.15 731.82 L120.57 731.21 L121.98 730.58 L123.40 729.92 L124.82 729.24 L126.23 728.54 L127.65 727.81 L129.07 727.06 L130.49 726.27 L131.90 725.46 L133.32 724.62 L134.74 723.75 L136.15 722.85 L137.57 721.91 L138.99 720.95 L140.41 719.94 L141.82 718.90 L143.24 717.83 L144.66 716.71 L146.07 715.55 L147.49 714.36 L148.91 713.12 L150.32 711.84 L151.74 710.51 L153.16 709.14 L154.57 707.72 L155.99 706.26 L157.41 704.74 L158.83 703.17 L160.24 701.55 L161.66 699.88 L163.08 698.16 L164.49 696.37 L165.91 694.52 L167.33 692.60 L168.75 690.60 L170.16 688.51 L171.58 686.33 L173.00 684.05 L174.41 681.65 L175.83 679.13 L177.25 676.49 L178.66 673.71 L180.08 670.78 L181.50 667.70 L182.92 664.48 L184.33 661.16 L185.75 657.76 L187.17 654.31 L188.58 650.85 L190.00 647.41 L191.42 644.01 L192.83 640.67 L194.25 637.41 L195.67 634.24 L197.08 631.16 L198.50 628.17 L199.92 625.26 L201.34 622.43 L202.75 619.67 L204.17 616.98 L205.59 614.36 L207.00 611.79 L208.42 609.27 L209.84 606.80 L211.25 604.36 L212.67 601.96 L214.09 599.58 L215.51 597.21 L216.92 594.86 L218.34 592.51 L219.76 590.17 L221.17 587.83 L222.59 585.48 L224.01 583.13 L225.43 580.77 L226.84 578.42 L228.26 576.10 L229.68 573.82 L231.09 571.61 L232.51 569.49 L233.93 567.46 L235.34 565.53 L236.76 563.73 L238.18 562.04 L239.60 560.47 L241.01 559.01 L242.43 557.66 L243.85 556.40 L245.26 555.22 L246.68 554.13 L248.10 553.10 L249.51 552.14 L250.93 551.25 L252.35 550.40 L253.76 549.61 L255.18 548.86 L256.60 548.15 L258.02 547.48 L259.43 546.84 L260.85 546.24 L262.27 545.66 L263.68 545.11 L265.10 544.58 L266.52 544.07 L267.94 543.59 L269.35 543.11 L270.77 542.66 L272.19 542.22 L273.60 541.79 L275.02 541.37 L276.44 540.97 L277.85 540.57 L279.27 540.19 L280.69 539.81 L282.11 539.45 L283.52 539.09 L284.94 538.74 L286.36 538.41 L287.77 538.08 L289.19 537.76 L290.61 537.45 L292.02 537.15 L293.44 536.86 L294.86 536.58 L296.27 536.31 L297.69 536.04 L299.11 535.79 L300.53 535.54 L301.94 535.30 L303.36 535.06 L304.78 534.84 L306.19 534.62 L307.61 534.41 L309.03 534.21 L310.44 534.01 L311.86 533.82 L313.28 533.64 L314.70 533.46 L316.11 533.29 L317.53 533.13 L318.95 532.97 L320.36 532.82 L321.78 532.67 L323.20 532.53 L324.62 532.39 L326.03 532.26 L327.45 532.14 L328.87 532.02 L330.28 531.90 L331.70 531.79" stroke="#3f48ad" stroke-width="3.5" fill="none"/>
<path d="M48.30 745.99 L49.72 745.89 L51.13 745.77 L52.55 745.66 L53.97 745.54 L55.38 745.41 L56.80 745.29 L58.22 745.15 L59.64 745.01 L61.05 744.87 L62.47 744.72 L63.89 744.57 L65.30 744.41 L66.72 744.25 L68.14 744.08 L69.55 743.90 L70.97 743.72 L72.39 743.54 L73.81 743.34 L75.22 743.14 L76.64 742.93 L78.06 742.72 L79.47 742.50 L80.89 742.27 L82.31 742.03 L83.72 741.78 L85.14 741.53 L86.56 741.26 L87.98 740.99 L89.39 740.71 L90.81 740.41 L92.23 740.11 L93.64 739.80 L95.06 739.47 L96.48 739.14 L97.89 738.79 L99.31 738.43 L100.73 738.06 L102.15 737.67 L103.56 737.27 L104.98 736.86 L106.40 736.43 L107.81 735.99 L109.23 735.53 L110.65 735.05 L112.06 734.56 L113.48 734.05 L114.90 733.52 L116.32 732.97 L117.73 732.41 L119.15 731.82 L120.57 731.21 L121.98 730.58 L123.40 729.92 L124.82 729.24 L126.23 728.54 L127.65 727.81 L129.07 727.06 L130.49 726.27 L131.90 725.46 L133.32 724.62 L134.74 723.75 L136.15 722.85 L137.57 721.91 L138.99 720.95 L140.41 719.94 L141.82 718.90 L143.24 717.83 L144.66 716.71 L146.07 715.55 L147.49 714.36 L148.91 713.12 L150.32 711.84 L151.74 710.51 L153.16 709.14 L154.57 707.72 L155.99 706.26 L157.41 704.74 L158.83 703.17 L160.24 701.55 L161.66 699.88 L163.08 698.16 L164.49 696.37 L165.91 694.52 L167.33 692.60 L168.75 690.60 L170.16 688.51 L171.58 686.33 L173.00 684.05 L174.41 681.65 L175.83 679.13 L177.25 676.49 L178.66 673.71 L180.08 670.78 L181.50 667.70 L182.92 664.48 L184.33 661.16 L185.75 657.76 L187.17 654.31 L188.58 650.85 L190.00 647.41 L191.42 644.01 L192.83 640.67 L194.25 637.41 L195.67 634.24 L197.08 631.16 L198.50 628.17 L199.92 625.26 L201.34 622.43 L202.75 619.67 L204.17 616.98 L205.59 614.36 L207.00 611.79 L208.42 609.27 L209.84 606.80 L211.25 604.36 L212.67 601.96 L214.09 599.58 L215.51 597.21 L216.92 594.86 L218.34 592.51 L219.76 590.17 L221.17 587.83 L222.59 585.48 L224.01 583.13 L225.43 580.77 L226.84 578.42 L228.26 576.10 L229.68 573.82 L231.09 571.61 L232.51 569.49 L233.93 567.46 L235.34 565.53 L236.76 563.73 L238.18 562.04 L239.60 560.47 L241.01 559.01 L242.43 557.66 L243.85 556.40 L245.26 555.22 L246.68 554.13 L248.10 553.10 L249.51 552.14 L250.93 551.25 L252.35 550.40 L253.76 549.61 L255.18 548.86 L256.60 548.15 L258.02 547.48 L259.43 546.84 L260.85 546.24 L262.27 545.66 L263.68 545.11 L265.10 544.58 L266.52 544.07 L267.94 543.59 L269.35 543.11 L270.77 542.66 L272.19 542.22 L273.60 541.79 L275.02 541.37 L276.44 540.97 L277.85 540.57 L279.27 540.19 L280.69 539.81 L282.11 539.45 L283.52 539.09 L284.94 538.74 L286.36 538.41 L287.77 538.08 L289.19 537.76 L290.61 537.45 L292.02 537.15 L293.44 536.86 L294.86 536.58 L296.27 536.31 L297.69 536.04 L299.11 535.79 L300.53 535.54 L301.94 535.30 L303.36 535.06 L304.78 534.84 L306.19 534.62 L307.61 534.41 L309.03 534.21 L310.44 534.01 L311.86 533.82 L313.28 533.64 L314.70 533.46 L316.11 533.29 L317.53 533.13 L318.95 532.97 L320.36 532.82 L321.78 532.67 L323.20 532.53 L324.62 532.39 L326.03 532.26 L327.45 532.14 L328.87 532.02 L330.28 531.90 L331.70 531.79" stroke="#fff" stroke-width="0.7" fill="none" opacity="0.35" transform="translate(-0.8,0)"/>
<path d="M48.30 746.15 L49.72 746.06 L51.13 745.95 L52.55 745.85 L53.97 745.74 L55.38 745.63 L56.80 745.51 L58.22 745.39 L59.64 745.26 L61.05 745.13 L62.47 744.99 L63.89 744.85 L65.30 744.71 L66.72 744.55 L68.14 744.40 L69.55 744.23 L70.97 744.06 L72.39 743.88 L73.81 743.70 L75.22 743.51 L76.64 743.31 L78.06 743.10 L79.47 742.88 L80.89 742.66 L82.31 742.43 L83.72 742.18 L85.14 741.93 L86.56 741.67 L87.98 741.40 L89.39 741.11 L90.81 740.82 L92.23 740.51 L93.64 740.19 L95.06 739.85 L96.48 739.51 L97.89 739.14 L99.31 738.77 L100.73 738.37 L102.15 737.96 L103.56 737.54 L104.98 737.09 L106.40 736.63 L107.81 736.14 L109.23 735.64 L110.65 735.11 L112.06 734.56 L113.48 733.99 L114.90 733.39 L116.32 732.77 L117.73 732.12 L119.15 731.44 L120.57 730.74 L121.98 730.00 L123.40 729.23 L124.82 728.43 L126.23 727.59 L127.65 726.71 L129.07 725.80 L130.49 724.85 L131.90 723.86 L133.32 722.82 L134.74 721.74 L136.15 720.62 L137.57 719.44 L138.99 718.22 L140.41 716.94 L141.82 715.61 L143.24 714.23 L144.66 712.79 L146.07 711.28 L147.49 709.72 L148.91 708.10 L150.32 706.41 L151.74 704.65 L153.16 702.83 L154.57 700.93 L155.99 698.97 L157.41 696.93 L158.83 694.82 L160.24 692.63 L161.66 690.37 L163.08 688.03 L164.49 685.62 L165.91 683.13 L167.33 680.55 L168.75 677.90 L170.16 675.17 L171.58 672.37 L173.00 669.48 L174.41 666.51 L175.83 663.47 L177.25 660.36 L178.66 657.17 L180.08 653.92 L181.50 650.60 L182.92 647.22 L184.33 643.78 L185.75 640.29 L187.17 636.76 L188.58 633.20 L190.00 629.64 L191.42 626.10 L192.83 622.60 L194.25 619.14 L195.67 615.72 L197.08 612.33 L198.50 608.99 L199.92 605.68 L201.34 602.45 L202.75 599.33 L204.17 596.35 L205.59 593.54 L207.00 590.92 L208.42 588.51 L209.84 586.27 L211.25 584.18 L212.67 582.19 L214.09 580.25 L215.51 578.35 L216.92 576.45 L218.34 574.52 L219.76 572.56 L221.17 570.54 L222.59 568.51 L224.01 566.49 L225.43 564.52 L226.84 562.63 L228.26 560.83 L229.68 559.14 L231.09 557.54 L232.51 556.04 L233.93 554.63 L235.34 553.30 L236.76 552.06 L238.18 550.89 L239.60 549.79 L241.01 548.76 L242.43 547.80 L243.85 546.90 L245.26 546.05 L246.68 545.26 L248.10 544.52 L249.51 543.83 L250.93 543.18 L252.35 542.57 L253.76 541.99 L255.18 541.46 L256.60 540.95 L258.02 540.48 L259.43 540.03 L260.85 539.61 L262.27 539.21 L263.68 538.84 L265.10 538.48 L266.52 538.15 L267.94 537.83 L269.35 537.53 L270.77 537.24 L272.19 536.97 L273.60 536.71 L275.02 536.47 L276.44 536.24 L277.85 536.02 L279.27 535.80 L280.69 535.60 L282.11 535.41 L283.52 535.22 L284.94 535.05 L286.36 534.88 L287.77 534.71 L289.19 534.56 L290.61 534.40 L292.02 534.26 L293.44 534.12 L294.86 533.98 L296.27 533.85 L297.69 533.73 L299.11 533.61 L300.53 533.49 L301.94 533.37 L303.36 533.26 L304.78 533.15 L306.19 533.05 L307.61 532.95 L309.03 532.85 L310.44 532.75 L311.86 532.66 L313.28 532.56 L314.70 532.47 L316.11 532.39 L317.53 532.30 L318.95 532.22 L320.36 532.13 L321.78 532.05 L323.20 531.97 L324.62 531.90 L326.03 531.82 L327.45 531.75 L328.87 531.67 L330.28 531.60 L331.70 531.53" stroke="#111" stroke-width="6.0" fill="none"/>
<path d="M48.30 746.15 L49.72 746.06 L51.13 745.95 L52.55 745.85 L53.97 745.74 L55.38 745.63 L56.80 745.51 L58.22 745.39 L59.64 745.26 L61.05 745.13 L62.47 744.99 L63.89 744.85 L65.30 744.71 L66.72 744.55 L68.14 744.40 L69.55 744.23 L70.97 744.06 L72.39 743.88 L73.81 743.70 L75.22 743.51 L76.64 743.31 L78.06 743.10 L79.47 742.88 L80.89 742.66 L82.31 742.43 L83.72 742.18 L85.14 741.93 L86.56 741.67 L87.98 741.40 L89.39 741.11 L90.81 740.82 L92.23 740.51 L93.64 740.19 L95.06 739.85 L96.48 739.51 L97.89 739.14 L99.31 738.77 L100.73 738.37 L102.15 737.96 L103.56 737.54 L104.98 737.09 L106.40 736.63 L107.81 736.14 L109.23 735.64 L110.65 735.11 L112.06 734.56 L113.48 733.99 L114.90 733.39 L116.32 732.77 L117.73 732.12 L119.15 731.44 L120.57 730.74 L121.98 730.00 L123.40 729.23 L124.82 728.43 L126.23 727.59 L127.65 726.71 L129.07 725.80 L130.49 724.85 L131.90 723.86 L133.32 722.82 L134.74 721.74 L136.15 720.62 L137.57 719.44 L138.99 718.22 L140.41 716.94 L141.82 715.61 L143.24 714.23 L144.66 712.79 L146.07 711.28 L147.49 709.72 L148.91 708.10 L150.32 706.41 L151.74 704.65 L153.16 702.83 L154.57 700.93 L155.99 698.97 L157.41 696.93 L158.83 694.82 L160.24 692.63 L161.66 690.37 L163.08 688.03 L164.49 685.62 L165.91 683.13 L167.33 680.55 L168.75 677.90 L170.16 675.17 L171.58 672.37 L173.00 669.48 L174.41 666.51 L175.83 663.47 L177.25 660.36 L178.66 657.17 L180.08 653.92 L181.50 650.60 L182.92 647.22 L184.33 643.78 L185.75 640.29 L187.17 636.76 L188.58 633.20 L190.00 629.64 L191.42 626.10 L192.83 622.60 L194.25 619.14 L195.67 615.72 L197.08 612.33 L198.50 608.99 L199.92 605.68 L201.34 602.45 L202.75 599.33 L204.17 596.35 L205.59 593.54 L207.00 590.92 L208.42 588.51 L209.84 586.27 L211.25 584.18 L212.67 582.19 L214.09 580.25 L215.51 578.35 L216.92 576.45 L218.34 574.52 L219.76 572.56 L221.17 570.54 L222.59 568.51 L224.01 566.49 L225.43 564.52 L226.84 562.63 L228.26 560.83 L229.68 559.14 L231.09 557.54 L232.51 556.04 L233.93 554.63 L235.34 553.30 L236.76 552.06 L238.18 550.89 L239.60 549.79 L241.01 548.76 L242.43 547.80 L243.85 546.90 L245.26 546.05 L246.68 545.26 L248.10 544.52 L249.51 543.83 L250.93 543.18 L252.35 542.57 L253.76 541.99 L255.18 541.46 L256.60 540.95 L258.02 540.48 L259.43 540.03 L260.85 539.61 L262.27 539.21 L263.68 538.84 L265.10 538.48 L266.52 538.15 L267.94 537.83 L269.35 537.53 L270.77 537.24 L272.19 536.97 L273.60 536.71 L275.02 536.47 L276.44 536.24 L277.85 536.02 L279.27 535.80 L280.69 535.60 L282.11 535.41 L283.52 535.22 L284.94 535.05 L286.36 534.88 L287.77 534.71 L289.19 534.56 L290.61 534.40 L292.02 534.26 L293.44 534.12 L294.86 533.98 L296.27 533.85 L297.69 533.73 L299.11 533.61 L300.53 533.49 L301.94 533.37 L303.36 533.26 L304.78 533.15 L306.19 533.05 L307.61 532.95 L309.03 532.85 L310.44 532.75 L311.86 532.66 L313.28 532.56 L314.70 532.47 L316.11 532.39 L317.53 532.30 L318.95 532.22 L320.36 532.13 L321.78 532.05 L323.20 531.97 L324.62 531.90 L326.03 531.82 L327.45 531.75 L328.87 531.67 L330.28 531.60 L331.70 531.53" stroke="#fff" stroke-width="4.7" fill="none" opacity="0.8"/>
<path d="M48.30 746.15 L49.72 746.06 L51.13 745.95 L52.55 745.85 L53.97 745.74 L55.38 745.63 L56.80 745.51 L58.22 745.39 L59.64 745.26 L61.05 745.13 L62.47 744.99 L63.89 744.85 L65.30 744.71 L66.72 744.55 L68.14 744.40 L69.55 744.23 L70.97 744.06 L72.39 743.88 L73.81 743.70 L75.22 743.51 L76.64 743.31 L78.06 743.10 L79.47 742.88 L80.89 742.66 L82.31 742.43 L83.72 742.18 L85.14 741.93 L86.56 741.67 L87.98 741.40 L89.39 741.11 L90.81 740.82 L92.23 740.51 L93.64 740.19 L95.06 739.85 L96.48 739.51 L97.89 739.14 L99.31 738.77 L100.73 738.37 L102.15 737.96 L103.56 737.54 L104.98 737.09 L106.40 736.63 L107.81 736.14 L109.23 735.64 L110.65 735.11 L112.06 734.56 L113.48 733.99 L114.90 733.39 L116.32 732.77 L117.73 732.12 L119.15 731.44 L120.57 730.74 L121.98 730.00 L123.40 729.23 L124.82 728.43 L126.23 727.59 L127.65 726.71 L129.07 725.80 L130.49 724.85 L131.90 723.86 L133.32 722.82 L134.74 721.74 L136.15 720.62 L137.57 719.44 L138.99 718.22 L140.41 716.94 L141.82 715.61 L143.24 714.23 L144.66 712.79 L146.07 711.28 L147.49 709.72 L148.91 708.10 L150.32 706.41 L151.74 704.65 L153.16 702.83 L154.57 700.93 L155.99 698.97 L157.41 696.93 L158.83 694.82 L160.24 692.63 L161.66 690.37 L163.08 688.03 L164.49 685.62 L165.91 683.13 L167.33 680.55 L168.75 677.90 L170.16 675.17 L171.58 672.37 L173.00 669.48 L174.41 666.51 L175.83 663.47 L177.25 660.36 L178.66 657.17 L180.08 653.92 L181.50 650.60 L182.92 647.22 L184.33 643.78 L185.75 640.29 L187.17 636.76 L188.58 633.20 L190.00 629.64 L191.42 626.10 L192.83 622.60 L194.25 619.14 L195.67 615.72 L197.08 612.33 L198.50 608.99 L199.92 605.68 L201.34 602.45 L202.75 599.33 L204.17 596.35 L205.59 593.54 L207.00 590.92 L208.42 588.51 L209.84 586.27 L211.25 584.18 L212.67 582.19 L214.09 580.25 L215.51 578.35 L216.92 576.45 L218.34 574.52 L219.76 572.56 L221.17 570.54 L222.59 568.51 L224.01 566.49 L225.43 564.52 L226.84 562.63 L228.26 560.83 L229.68 559.14 L231.09 557.54 L232.51 556.04 L233.93 554.63 L235.34 553.30 L236.76 552.06 L238.18 550.89 L239.60 549.79 L241.01 548.76 L242.43 547.80 L243.85 546.90 L245.26 546.05 L246.68 545.26 L248.10 544.52 L249.51 543.83 L250.93 543.18 L252.35 542.57 L253.76 541.99 L255.18 541.46 L256.60 540.95 L258.02 540.48 L259.43 540.03 L260.85 539.61 L262.27 539.21 L263.68 538.84 L265.10 538.48 L266.52 538.15 L267.94 537.83 L269.35 537.53 L270.77 537.24 L272.19 536.97 L273.60 536.71 L275.02 536.47 L276.44 536.24 L277.85 536.02 L279.27 535.80 L280.69 535.60 L282.11 535.41 L283.52 535.22 L284.94 535.05 L286.36 534.88 L287.77 534.71 L289.19 534.56 L290.61 534.40 L292.02 534.26 L293.44 534.12 L294.86 533.98 L296.27 533.85 L297.69 533.73 L299.11 533.61 L300.53 533.49 L301.94 533.37 L303.36 533.26 L304.78 533.15 L306.19 533.05 L307.61 532.95 L309.03 532.85 L310.44 532.75 L311.86 532.66 L313.28 532.56 L314.70 532.47 L316.11 532.39 L317.53 532.30 L318.95 532.22 L320.36 532.13 L321.78 532.05 L323.20 531.97 L324.62 531.90 L326.03 531.82 L327.45 531.75 L328.87 531.67 L330.28 531.60 L331.70 531.53" stroke="#dc3223" stroke-width="3.5" fill="none"/>
<path d="M48.30 746.15 L49.72 746.06 L51.13 745.95 L52.55 745.85 L53.97 745.74 L55.38 745.63 L56.80 745.51 L58.22 745.39 L59.64 745.26 L61.05 745.13 L62.47 744.99 L63.89 744.85 L65.30 744.71 L66.72 744.55 L68.14 744.40 L69.55 744.23 L70.97 744.06 L72.39 743.88 L73.81 743.70 L75.22 743.51 L76.64 743.31 L78.06 743.10 L79.47 742.88 L80.89 742.66 L82.31 742.43 L83.72 742.18 L85.14 741.93 L86.56 741.67 L87.98 741.40 L89.39 741.11 L90.81 740.82 L92.23 740.51 L93.64 740.19 L95.06 739.85 L96.48 739.51 L97.89 739.14 L99.31 738.77 L100.73 738.37 L102.15 737.96 L103.56 737.54 L104.98 737.09 L106.40 736.63 L107.81 736.14 L109.23 735.64 L110.65 735.11 L112.06 734.56 L113.48 733.99 L114.90 733.39 L116.32 732.77 L117.73 732.12 L119.15 731.44 L120.57 730.74 L121.98 730.00 L123.40 729.23 L124.82 728.43 L126.23 727.59 L127.65 726.71 L129.07 725.80 L130.49 724.85 L131.90 723.86 L133.32 722.82 L134.74 721.74 L136.15 720.62 L137.57 719.44 L138.99 718.22 L140.41 716.94 L141.82 715.61 L143.24 714.23 L144.66 712.79 L146.07 711.28 L147.49 709.72 L148.91 708.10 L150.32 706.41 L151.74 704.65 L153.16 702.83 L154.57 700.93 L155.99 698.97 L157.41 696.93 L158.83 694.82 L160.24 692.63 L161.66 690.37 L163.08 688.03 L164.49 685.62 L165.91 683.13 L167.33 680.55 L168.75 677.90 L170.16 675.17 L171.58 672.37 L173.00 669.48 L174.41 666.51 L175.83 663.47 L177.25 660.36 L178.66 657.17 L180.08 653.92 L181.50 650.60 L182.92 647.22 L184.33 643.78 L185.75 640.29 L187.17 636.76 L188.58 633.20 L190.00 629.64 L191.42 626.10 L192.83 622.60 L194.25 619.14 L195.67 615.72 L197.08 612.33 L198.50 608.99 L199.92 605.68 L201.34 602.45 L202.75 599.33 L204.17 596.35 L205.59 593.54 L207.00 590.92 L208.42 588.51 L209.84 586.27 L211.25 584.18 L212.67 582.19 L214.09 580.25 L215.51 578.35 L216.92 576.45 L218.34 574.52 L219.76 572.56 L221.17 570.54 L222.59 568.51 L224.01 566.49 L225.43 564.52 L226.84 562.63 L228.26 560.83 L229.68 559.14 L231.09 557.54 L232.51 556.04 L233.93 554.63 L235.34 553.30 L236.76 552.06 L238.18 550.89 L239.60 549.79 L241.01 548.76 L242.43 547.80 L243.85 546.90 L245.26 546.05 L246.68 545.26 L248.10 544.52 L249.51 543.83 L250.93 543.18 L252.35 542.57 L253.76 541.99 L255.18 541.46 L256.60 540.95 L258.02 540.48 L259.43 540.03 L260.85 539.61 L262.27 539.21 L263.68 538.84 L265.10 538.48 L266.52 538.15 L267.94 537.83 L269.35 537.53 L270.77 537.24 L272.19 536.97 L273.60 536.71 L275.02 536.47 L276.44 536.24 L277.85 536.02 L279.27 535.80 L280.69 535.60 L282.11 535.41 L283.52 535.22 L284.94 535.05 L286.36 534.88 L287.77 534.71 L289.19 534.56 L290.61 534.40 L292.02 534.26 L293.44 534.12 L294.86 533.98 L296.27 533.85 L297.69 533.73 L299.11 533.61 L300.53 533.49 L301.94 533.37 L303.36 533.26 L304.78 533.15 L306.19 533.05 L307.61 532.95 L309.03 532.85 L310.44 532.75 L311.86 532.66 L313.28 532.56 L314.70 532.47 L316.11 532.39 L317.53 532.30 L318.95 532.22 L320.36 532.13 L321.78 532.05 L323.20 531.97 L324.62 531.90 L326.03 531.82 L327.45 531.75 L328.87 531.67 L330.28 531.60 L331.70 531.53" stroke="#fff" stroke-width="0.7" fill="none" opacity="0.35" transform="translate(-0.8,0)"/>
<circle cx="48.3" cy="740.5" r="3.3" fill="#3f48ad"/><circle cx="48.3" cy="740.5" r="0.9" fill="#fff" opacity="0.5"/>
<circle cx="161.7" cy="698.7" r="3.3" fill="#3f48ad"/><circle cx="161.7" cy="698.7" r="0.9" fill="#fff" opacity="0.5"/>
<circle cx="190.0" cy="646.5" r="3.3" fill="#3f48ad"/><circle cx="190.0" cy="646.5" r="0.9" fill="#fff" opacity="0.5"/>
<circle cx="218.3" cy="597.5" r="3.3" fill="#3f48ad"/><circle cx="218.3" cy="597.5" r="0.9" fill="#fff" opacity="0.5"/>
<circle cx="246.7" cy="554.8" r="3.3" fill="#3f48ad"/><circle cx="246.7" cy="554.8" r="0.9" fill="#fff" opacity="0.5"/>
<circle cx="48.3" cy="746.2" r="3.3" fill="#dc3223"/><circle cx="48.3" cy="746.2" r="0.9" fill="#fff" opacity="0.5"/>
<circle cx="133.3" cy="721.2" r="3.3" fill="#dc3223"/><circle cx="133.3" cy="721.2" r="0.9" fill="#fff" opacity="0.5"/>
<circle cx="161.7" cy="691.4" r="3.3" fill="#dc3223"/><circle cx="161.7" cy="691.4" r="0.9" fill="#fff" opacity="0.5"/>
<circle cx="190.0" cy="628.1" r="3.3" fill="#dc3223"/><circle cx="190.0" cy="628.1" r="0.9" fill="#fff" opacity="0.5"/>
<circle cx="218.3" cy="577.8" r="3.3" fill="#dc3223"/><circle cx="218.3" cy="577.8" r="0.9" fill="#fff" opacity="0.5"/>
<circle cx="246.7" cy="542.1" r="3.3" fill="#dc3223"/><circle cx="246.7" cy="542.1" r="0.9" fill="#fff" opacity="0.5"/>
<circle cx="331.7" cy="531.4" r="3.3" fill="#dc3223"/><circle cx="331.7" cy="531.4" r="0.9" fill="#fff" opacity="0.5"/>
<line x1="49" y1="639.1" x2="331.5" y2="639.1" stroke="#111" stroke-width="2.6" stroke-dasharray="4.8 5.65"/>
<line x1="185.4" y1="644" x2="185.4" y2="748" stroke="#dc3223" stroke-width="2.7" stroke-dasharray="4.6 5.8"/>
<line x1="193.4" y1="648" x2="193.4" y2="748" stroke="#3f48ad" stroke-width="2.7" stroke-dasharray="4.6 5.8"/>
<path d="M48.3 525.7 V748.6 H331.6" stroke="#050505" stroke-width="2.3" fill="none"/>
<line x1="48.3" y1="748.6" x2="51.3" y2="748.6" stroke="#050505" stroke-width="2.2"/>
<text x="42.9" y="754.7" font-size="15.8" text-anchor="end" fill="#050505" font-weight="normal" >0</text>
<line x1="48.3" y1="726.7" x2="51.3" y2="726.7" stroke="#050505" stroke-width="2.2"/>
<text x="42.9" y="732.8" font-size="15.8" text-anchor="end" fill="#050505" font-weight="normal" >10</text>
<line x1="48.3" y1="704.8" x2="51.3" y2="704.8" stroke="#050505" stroke-width="2.2"/>
<text x="42.9" y="710.9" font-size="15.8" text-anchor="end" fill="#050505" font-weight="normal" >20</text>
<line x1="48.3" y1="682.9" x2="51.3" y2="682.9" stroke="#050505" stroke-width="2.2"/>
<text x="42.9" y="689.0" font-size="15.8" text-anchor="end" fill="#050505" font-weight="normal" >30</text>
<line x1="48.3" y1="661.0" x2="51.3" y2="661.0" stroke="#050505" stroke-width="2.2"/>
<text x="42.9" y="667.1" font-size="15.8" text-anchor="end" fill="#050505" font-weight="normal" >40</text>
<line x1="48.3" y1="639.1" x2="51.3" y2="639.1" stroke="#050505" stroke-width="2.2"/>
<text x="42.9" y="645.2" font-size="15.8" text-anchor="end" fill="#050505" font-weight="normal" >50</text>
<line x1="48.3" y1="617.2" x2="51.3" y2="617.2" stroke="#050505" stroke-width="2.2"/>
<text x="42.9" y="623.3" font-size="15.8" text-anchor="end" fill="#050505" font-weight="normal" >60</text>
<line x1="48.3" y1="595.3" x2="51.3" y2="595.3" stroke="#050505" stroke-width="2.2"/>
<text x="42.9" y="601.4" font-size="15.8" text-anchor="end" fill="#050505" font-weight="normal" >70</text>
<line x1="48.3" y1="573.4" x2="51.3" y2="573.4" stroke="#050505" stroke-width="2.2"/>
<text x="42.9" y="579.5" font-size="15.8" text-anchor="end" fill="#050505" font-weight="normal" >80</text>
<line x1="48.3" y1="551.5" x2="51.3" y2="551.5" stroke="#050505" stroke-width="2.2"/>
<text x="42.9" y="557.6" font-size="15.8" text-anchor="end" fill="#050505" font-weight="normal" >90</text>
<line x1="48.3" y1="529.6" x2="51.3" y2="529.6" stroke="#050505" stroke-width="2.2"/>
<text x="42.9" y="535.7" font-size="15.8" text-anchor="end" fill="#050505" font-weight="normal" >100</text>
<line x1="48.3" y1="748.6" x2="48.3" y2="745.4" stroke="#050505" stroke-width="1.6"/>
<text x="47.1" y="766.5" font-size="15.8" text-anchor="middle" fill="#050505" font-weight="normal" >0</text>
<line x1="105.0" y1="748.6" x2="105.0" y2="745.4" stroke="#050505" stroke-width="1.6"/>
<text x="104.2" y="766.5" font-size="15.8" text-anchor="middle" fill="#050505" font-weight="normal" >20</text>
<line x1="161.7" y1="748.6" x2="161.7" y2="745.4" stroke="#050505" stroke-width="1.6"/>
<text x="160.9" y="766.5" font-size="15.8" text-anchor="middle" fill="#050505" font-weight="normal" >40</text>
<line x1="218.3" y1="748.6" x2="218.3" y2="745.4" stroke="#050505" stroke-width="1.6"/>
<text x="217.5" y="766.5" font-size="15.8" text-anchor="middle" fill="#050505" font-weight="normal" >60</text>
<line x1="275.0" y1="748.6" x2="275.0" y2="745.4" stroke="#050505" stroke-width="1.6"/>
<text x="274.2" y="766.5" font-size="15.8" text-anchor="middle" fill="#050505" font-weight="normal" >80</text>
<line x1="331.7" y1="748.6" x2="331.7" y2="745.4" stroke="#050505" stroke-width="1.6"/>
<text x="330.9" y="766.5" font-size="15.8" text-anchor="middle" fill="#050505" font-weight="normal" >100</text>
<text x="193.4" y="784.9" font-size="15.8" text-anchor="middle" fill="#050505" font-weight="normal" >% Fearful</text>
<text x="0.0" y="0.0" font-size="15" text-anchor="middle" fill="#050505" font-weight="normal" transform="translate(14.0,641.4) rotate(-90)" textLength="124" lengthAdjust="spacingAndGlyphs">% Chosen Fearful</text>
<line x1="259.6" y1="709.9" x2="283.2" y2="709.9" stroke="#dc3223" stroke-width="3"/>
<line x1="259.6" y1="730.9" x2="283.2" y2="730.9" stroke="#3f48ad" stroke-width="3"/>
<text x="289.8" y="714.6" font-size="15.8" text-anchor="start" fill="#050505" font-weight="normal" >Large</text>
<text x="289.8" y="735.6" font-size="15.8" text-anchor="start" fill="#050505" font-weight="normal" >Small</text>
<text x="360.4" y="514.3" font-size="19.5" text-anchor="start" fill="#050505" font-weight="bold" >D</text>
<path d="M411.6 532.7 V749.3 H518.2" stroke="#050505" stroke-width="2.3" fill="none"/>
<line x1="411.6" y1="749.3" x2="414.8" y2="749.3" stroke="#050505" stroke-width="1.6"/>
<text x="410.0" y="755.5" font-size="15.8" text-anchor="end" fill="#050505" font-weight="normal" >30</text>
<line x1="411.6" y1="689.5" x2="414.8" y2="689.5" stroke="#050505" stroke-width="1.6"/>
<text x="410.0" y="695.7" font-size="15.8" text-anchor="end" fill="#050505" font-weight="normal" >40</text>
<line x1="411.6" y1="629.7" x2="414.8" y2="629.7" stroke="#050505" stroke-width="1.6"/>
<text x="410.0" y="635.9" font-size="15.8" text-anchor="end" fill="#050505" font-weight="normal" >50</text>
<line x1="411.6" y1="569.9" x2="414.8" y2="569.9" stroke="#050505" stroke-width="1.6"/>
<text x="410.0" y="576.1" font-size="15.8" text-anchor="end" fill="#050505" font-weight="normal" >60</text>
<line x1="437.8" y1="749.3" x2="437.8" y2="746.3" stroke="#050505" stroke-width="1.6"/>
<line x1="491.4" y1="749.3" x2="491.4" y2="746.3" stroke="#050505" stroke-width="1.6"/>
<text x="440.1" y="766.2" font-size="15.8" text-anchor="middle" fill="#050505" font-weight="normal" >Large</text>
<text x="491.6" y="766.2" font-size="15.8" text-anchor="middle" fill="#050505" font-weight="normal" >Small</text>
<path d="M439.8 567.4 V531.2 H493.5 V539.6" stroke="#050505" stroke-width="2.5" fill="none"/>
<path d="M461.50 521.70 L461.50 517.90 M461.50 521.70 L465.11 520.53 M461.50 521.70 L463.73 524.77 M461.50 521.70 L459.27 524.77 M461.50 521.70 L457.89 520.53 " stroke="#050505" stroke-width="1.7" fill="none"/>
<path d="M471.70 521.70 L471.70 517.90 M471.70 521.70 L475.31 520.53 M471.70 521.70 L473.93 524.77 M471.70 521.70 L469.47 524.77 M471.70 521.70 L468.09 520.53 " stroke="#050505" stroke-width="1.7" fill="none"/>
<text font-size="15.4" text-anchor="middle" fill="#050505" transform="translate(378.0,641.3) rotate(-90) scale(1.03,1)">Inflection Point (x<tspan font-size="11.8" dy="8">half</tspan><tspan dy="-8">)</tspan></text>
<rect x="427.1" y="585.4" width="5.8" height="7.0" fill="#dc3223"/>
<rect x="427.1" y="605.4" width="5.8" height="5.3" fill="#dc3223"/>
<rect x="427.1" y="613.4" width="5.8" height="9.2" fill="#dc3223"/>
<rect x="427.1" y="625.8" width="5.8" height="18.3" fill="#dc3223"/>
<rect x="427.1" y="649.8" width="5.8" height="16.1" fill="#dc3223"/>
<rect x="427.1" y="677.8" width="5.8" height="9.8" fill="#dc3223"/>
<rect x="427.1" y="719.7" width="5.8" height="5.6" fill="#dc3223"/>
<rect x="481.0" y="549.1" width="5.6" height="5.4" fill="#3f48ad"/>
<rect x="481.0" y="566.7" width="5.6" height="7.1" fill="#3f48ad"/>
<rect x="481.0" y="587.4" width="5.6" height="24.2" fill="#3f48ad"/>
<rect x="481.0" y="614.5" width="5.6" height="5.4" fill="#3f48ad"/>
<rect x="481.0" y="621.1" width="5.6" height="12.4" fill="#3f48ad"/>
<rect x="481.0" y="635.0" width="5.6" height="19.6" fill="#3f48ad"/>
<rect x="481.0" y="690.8" width="5.6" height="5.5" fill="#3f48ad"/>
<path d="M440.9 634.0 H451.7 M440.9 646.6 H451.7 M446.3 634.0 V646.6" stroke="#dc3223" stroke-width="2.7" fill="none"/>
<rect x="443.3" y="637.2" width="6.0" height="6.4" fill="#dc3223"/>
<path d="M494.3 614.3 H505.1 M494.3 628.4 H505.1 M499.7 614.3 V628.4" stroke="#3f48ad" stroke-width="2.7" fill="none"/>
<rect x="496.7" y="618.4" width="6.0" height="6.4" fill="#3f48ad"/>
<text x="529.5" y="514.3" font-size="19.5" text-anchor="start" fill="#050505" font-weight="bold" >E</text>
<path d="M577.7 532.9 V749.3 H685" stroke="#050505" stroke-width="2.3" fill="none"/>
<line x1="577.7" y1="749.3" x2="580.9000000000001" y2="749.3" stroke="#050505" stroke-width="1.6"/>
<text x="575.0" y="755.5" font-size="15.8" text-anchor="end" fill="#050505" font-weight="normal" >0</text>
<line x1="577.7" y1="689.1" x2="580.9000000000001" y2="689.1" stroke="#050505" stroke-width="1.6"/>
<text x="575.0" y="695.3" font-size="15.8" text-anchor="end" fill="#050505" font-weight="normal" >0.1</text>
<line x1="577.7" y1="628.9" x2="580.9000000000001" y2="628.9" stroke="#050505" stroke-width="1.6"/>
<text x="575.0" y="635.1" font-size="15.8" text-anchor="end" fill="#050505" font-weight="normal" >0.2</text>
<line x1="577.7" y1="568.7" x2="580.9000000000001" y2="568.7" stroke="#050505" stroke-width="1.6"/>
<text x="575.0" y="574.9" font-size="15.8" text-anchor="end" fill="#050505" font-weight="normal" >0.3</text>
<line x1="604.3" y1="749.3" x2="604.3" y2="746.3" stroke="#050505" stroke-width="1.6"/>
<line x1="658.3" y1="749.3" x2="658.3" y2="746.3" stroke="#050505" stroke-width="1.6"/>
<text x="606.5" y="765.8" font-size="15.8" text-anchor="middle" fill="#050505" font-weight="normal" >Large</text>
<text x="658.3" y="765.8" font-size="15.8" text-anchor="middle" fill="#050505" font-weight="normal" >Small</text>
<path d="M607.2 541.3 V531.4 H660.4 V553.1" stroke="#050505" stroke-width="2.5" fill="none"/>
<path d="M633.20 522.00 L633.20 518.20 M633.20 522.00 L636.81 520.83 M633.20 522.00 L635.43 525.07 M633.20 522.00 L630.97 525.07 M633.20 522.00 L629.59 520.83 " stroke="#050505" stroke-width="1.7" fill="none"/>
<text font-size="15" text-anchor="middle" fill="#050505" transform="translate(546.1,640.8) rotate(-90)" textLength="98.5" lengthAdjust="spacingAndGlyphs">Steepness (&#945;)</text>
<rect x="593.2" y="558.6" width="5.8" height="5.4" fill="#dc3223"/>
<rect x="593.2" y="587.8" width="5.8" height="5.5" fill="#dc3223"/>
<rect x="593.2" y="613.4" width="5.8" height="5.6" fill="#dc3223"/>
<rect x="593.2" y="627.8" width="5.8" height="5.3" fill="#dc3223"/>
<rect x="593.2" y="643.1" width="5.8" height="9.2" fill="#dc3223"/>
<rect x="593.2" y="654.7" width="5.8" height="15.5" fill="#dc3223"/>
<rect x="593.2" y="671.6" width="5.8" height="22.4" fill="#dc3223"/>
<rect x="593.2" y="697.3" width="5.8" height="5.4" fill="#dc3223"/>
<rect x="593.2" y="703.6" width="5.8" height="10.2" fill="#dc3223"/>
<rect x="647.1" y="592.7" width="5.8" height="5.9" fill="#3f48ad"/>
<rect x="647.1" y="634.0" width="5.8" height="6.0" fill="#3f48ad"/>
<rect x="647.1" y="641.6" width="5.8" height="11.2" fill="#3f48ad"/>
<rect x="647.1" y="661.4" width="5.8" height="40.6" fill="#3f48ad"/>
<rect x="647.1" y="708.7" width="5.8" height="13.3" fill="#3f48ad"/>
<path d="M607.3 656.6 H618.1 M607.3 672.4 H618.1 M612.7 656.6 V672.4" stroke="#dc3223" stroke-width="2.7" fill="none"/>
<rect x="609.7" y="661.4" width="6.0" height="6.4" fill="#dc3223"/>
<path d="M660.9 671.1 H671.7 M660.9 683.3 H671.7 M666.3 671.1 V683.3" stroke="#3f48ad" stroke-width="2.7" fill="none"/>
<rect x="663.3" y="674.0" width="6.0" height="6.4" fill="#3f48ad"/>
</svg></body></html>
